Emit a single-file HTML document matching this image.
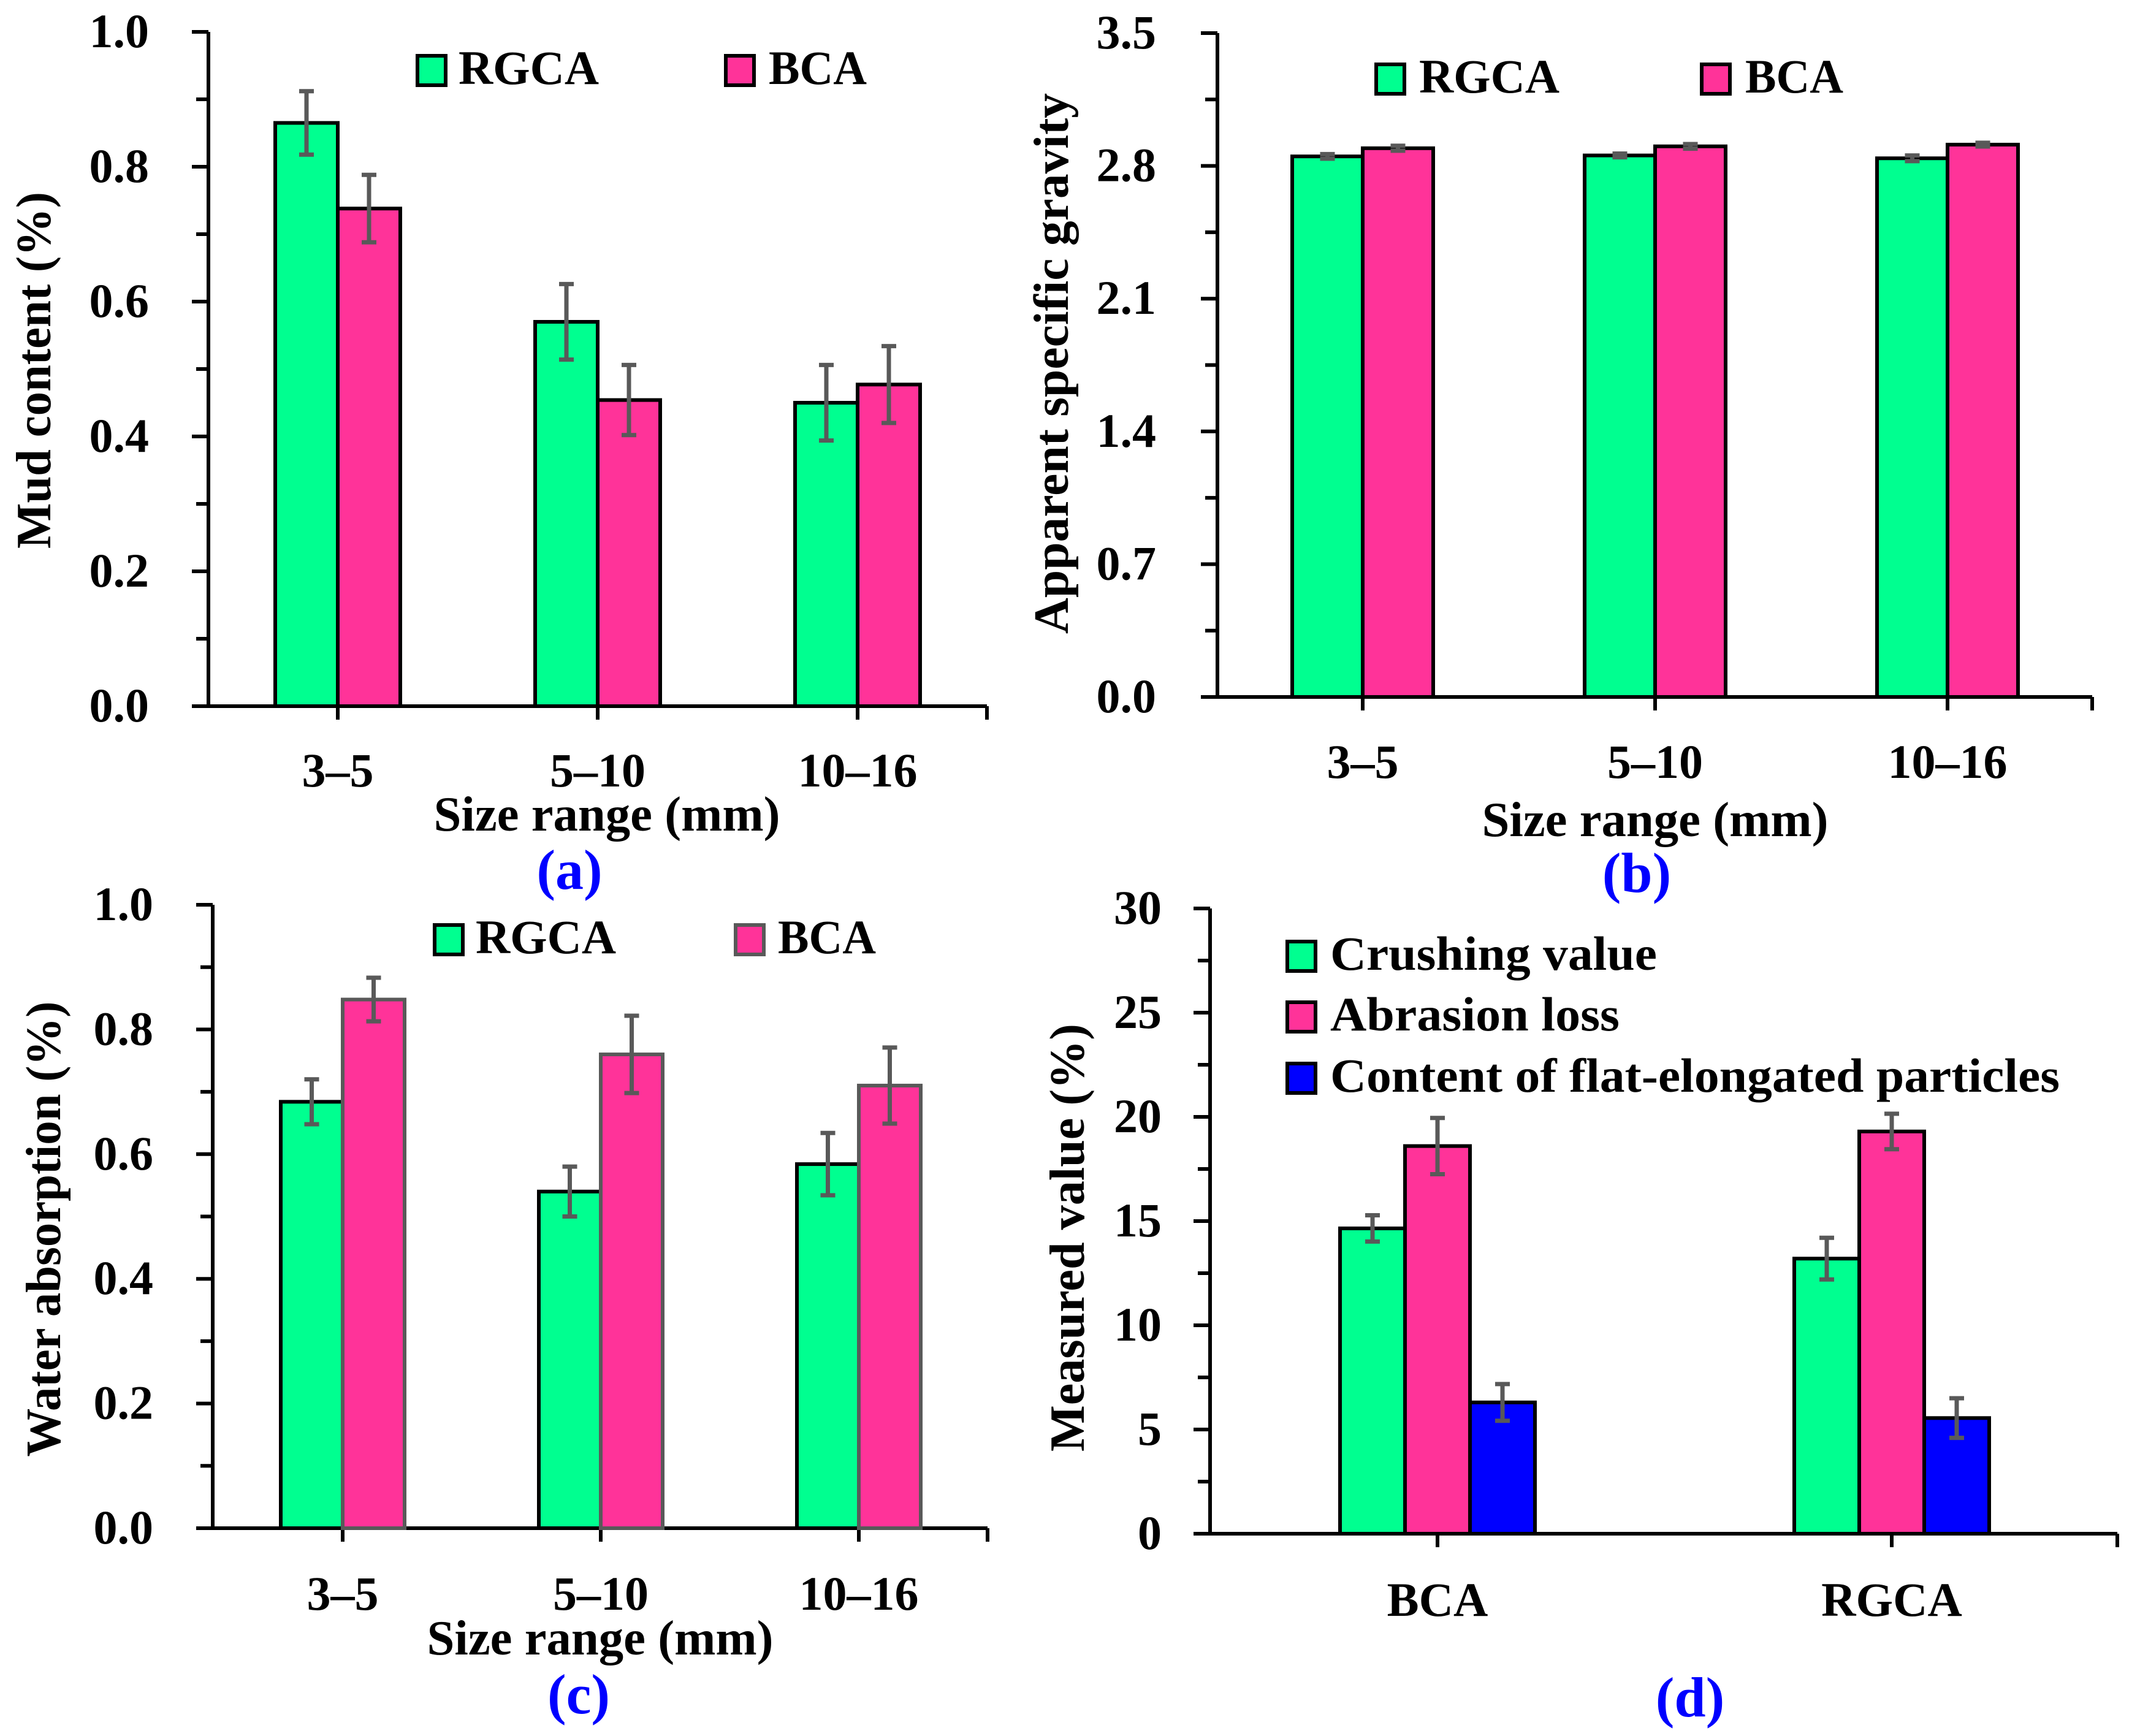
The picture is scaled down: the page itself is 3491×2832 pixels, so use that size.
<!DOCTYPE html>
<html><head><meta charset="utf-8"><style>
html,body{margin:0;padding:0;background:#fff;}
svg{display:block;}
svg text{font-family:"Liberation Serif","DejaVu Serif",serif;font-weight:bold;}
</style></head><body>
<svg id="fig" width="3491" height="2832" viewBox="0 0 3491 2832" xmlns="http://www.w3.org/2000/svg" font-family="Liberation Serif, DejaVu Serif, serif" font-weight="bold"></svg>
<script>
// Panel (a) Mud content
const aCategories = ["3–5","5–10","10–16"];
const aRGCA = [0.865, 0.57, 0.45];
const aRGCAErr = [0.047, 0.056, 0.056];
const aBCA = [0.738, 0.454, 0.477];
const aBCAErr = [0.05, 0.052, 0.057];
const aTicks = ["0.0","0.2","0.4","0.6","0.8","1.0"];
// Panel (b) Apparent specific gravity
const bCategories = ["3–5","5–10","10–16"];
const bRGCA = [2.85, 2.855, 2.84];
const bRGCAErr = [0.012, 0.01, 0.015];
const bBCA = [2.893, 2.903, 2.912];
const bBCAErr = [0.013, 0.012, 0.01];
const bTicks = ["0.0","0.7","1.4","2.1","2.8","3.5"];
// Panel (c) Water absorption
const cCategories = ["3–5","5–10","10–16"];
const cRGCA = [0.684, 0.54, 0.584];
const cRGCAErr = [0.036, 0.04, 0.05];
const cBCA = [0.848, 0.76, 0.71];
const cBCAErr = [0.035, 0.062, 0.061];
const cTicks = ["0.0","0.2","0.4","0.6","0.8","1.0"];
// Panel (d) Measured value
const dCategories = ["BCA","RGCA"];
const dCrushing = [14.65, 13.2];
const dCrushingErr = [0.63, 1.0];
const dAbrasion = [18.6, 19.3];
const dAbrasionErr = [1.35, 0.85];
const dFlat = [6.3, 5.55];
const dFlatErr = [0.88, 0.95];
const dTicks = ["0","5","10","15","20","25","30"];

const NS="http://www.w3.org/2000/svg";
const svg=document.getElementById('fig');
function el(tag,attrs,parent,text){const e=document.createElementNS(NS,tag);for(const k in attrs)e.setAttribute(k,attrs[k]);if(text!==undefined)e.textContent=text;(parent||svg).appendChild(e);return e;}

const GREEN="#00ff90",PINK="#ff3399",BLUE="#0000ff",ERR="#595959";

function panel(cfg){
  const g=el('g',{});
  
  
  const {x0,x1,yTop,yBot,ymax}=cfg;
  const ys=v=>yBot-(v/ymax)*(yBot-yTop);
  const ax=el('line',{x1:x0,y1:yTop,x2:x0,y2:yBot,stroke:'#000','stroke-width':6},g);
  
  const xa=el('line',{x1:x0-27,y1:yBot,x2:x1,y2:yBot,stroke:'#000','stroke-width':6},g);
  
  const nT=cfg.ticks.length;
  const step=ymax/(nT-1);
  for(let i=0;i<nT;i++){
    const v=i*step,y=ys(v);
    const t=el('line',{x1:x0-27,y1:y,x2:x0,y2:y,stroke:'#000','stroke-width':6},g);
    
    const lb=el('text',{x:cfg.tickRight,y:y+25,'text-anchor':'end','font-size':78},g,cfg.ticks[i]);
    
    if(i<nT-1){const ym=ys(v+step/2);
      const m=el('line',{x1:x0-20,y1:ym,x2:x0,y2:ym,stroke:'#000','stroke-width':6},g);
      }
  }
  const nC=cfg.categories.length;
  const ns=cfg.series.length;
  const bw=cfg.bw;
  for(let c=0;c<nC;c++){
    const cx=x0+cfg.firstCenter+c*cfg.spacing;
    const tk=el('line',{x1:cx,y1:yBot,x2:cx,y2:yBot+22,stroke:'#000','stroke-width':6},g);
    
    const lb=el('text',{x:cx,y:cfg.xLabelY,'text-anchor':'middle','font-size':78},g,cfg.categories[c]);
    
    for(let s=0;s<ns;s++){
      const S=cfg.series[s];
      const left=cx-ns*bw/2+s*bw;
      const v=S.values[c];
      const r=el('rect',{x:left,y:ys(v),width:bw,height:yBot-ys(v),fill:S.color,stroke:S.stroke||'#000','stroke-width':6},g);
      
      const bx=left+bw/2,e=S.errs[c];
      const eg=el('g',{stroke:ERR,'stroke-width':7},g);
      
      el('line',{x1:bx,y1:ys(v+e),x2:bx,y2:ys(v-e)},eg);
      el('line',{x1:bx-12,y1:ys(v+e),x2:bx+12,y2:ys(v+e)},eg);
      el('line',{x1:bx-12,y1:ys(v-e),x2:bx+12,y2:ys(v-e)},eg);
    }
  }
  const et=el('line',{x1:x1,y1:yBot,x2:x1,y2:yBot+22,stroke:'#000','stroke-width':6},g);
  
  cfg.legend.forEach(L=>{
    const sq=el('rect',{x:L.x,y:L.y,width:46,height:48,fill:L.color,stroke:L.stroke||'#000','stroke-width':6},g);
    
    const at={x:L.tx,y:L.y+46,'font-size':78};
    if(L.len){at.textLength=L.len;at.lengthAdjust='spacingAndGlyphs';}
    const tx=el('text',at,g,L.text);
    
  });
  const yt=el('text',{x:0,y:0,'text-anchor':'middle','font-size':80,textLength:cfg.ytLen,lengthAdjust:'spacingAndGlyphs',transform:`translate(${cfg.ytX},${cfg.ytY}) rotate(-90)`},g,cfg.ytitle);
  
  if(cfg.xtitle){
    const xt=el('text',{x:cfg.xtX,y:cfg.xtY,'text-anchor':'middle','font-size':80,textLength:565,lengthAdjust:'spacingAndGlyphs'},g,cfg.xtitle);
    
  }
  const pl=el('text',{x:cfg.plX,y:cfg.plY,'text-anchor':'middle','font-size':92,fill:BLUE},g,cfg.label);
  
}

panel({name:'panel-a-mud-content',x0:340,x1:1610,yTop:52,yBot:1152,ymax:1.0,ticks:aTicks,tickRight:243,
  categories:aCategories,firstCenter:211,spacing:424,bw:102,xLabelY:1283,
  series:[{key:'rgca',values:aRGCA,errs:aRGCAErr,color:GREEN},{key:'bca',values:aBCA,errs:aBCAErr,color:PINK}],
  legend:[{x:681,y:91,color:GREEN,tx:748,text:'RGCA',len:229},{x:1184,y:91,color:PINK,tx:1254,text:'BCA',len:160}],
  ytitle:'Mud content (%)',ytX:82,ytY:604,ytLen:582,xtitle:'Size range (mm)',xtX:990,xtY:1355,label:'(a)',plX:929,plY:1450});

panel({name:'panel-b-specific-gravity',x0:1986,x1:3413,yTop:54,yBot:1137,ymax:3.5,ticks:bTicks,tickRight:1886,
  categories:bCategories,firstCenter:237,spacing:477,bw:115,xLabelY:1269,
  series:[{key:'rgca',values:bRGCA,errs:bRGCAErr,color:GREEN},{key:'bca',values:bBCA,errs:bBCAErr,color:PINK}],
  legend:[{x:2245,y:105,color:GREEN,tx:2315,text:'RGCA',len:229},{x:2776,y:105,color:PINK,tx:2847,text:'BCA',len:160}],
  ytitle:'Apparent specific gravity',ytX:1742,ytY:593,ytLen:882,xtitle:'Size range (mm)',xtX:2700,xtY:1364,label:'(b)',plX:2670,plY:1455});

panel({name:'panel-c-water-absorption',x0:347,x1:1611,yTop:1476,yBot:2493,ymax:1.0,ticks:cTicks,tickRight:250,
  categories:cCategories,firstCenter:212,spacing:421,bw:101,xLabelY:2626,
  series:[{key:'rgca',values:cRGCA,errs:cRGCAErr,color:GREEN},{key:'bca',values:cBCA,errs:cBCAErr,color:PINK,stroke:'#595959'}],
  legend:[{x:709,y:1509,color:GREEN,tx:776,text:'RGCA',len:229},{x:1200,y:1509,color:PINK,stroke:'#595959',tx:1269,text:'BCA',len:160}],
  ytitle:'Water absorption (%)',ytX:98,ytY:2005,ytLen:743,xtitle:'Size range (mm)',xtX:979,xtY:2699,label:'(c)',plX:944,plY:2795});

panel({name:'panel-d-measured-value',x0:1974,x1:3454,yTop:1482,yBot:2502,ymax:30,ticks:dTicks,tickRight:1895,
  categories:dCategories,firstCenter:371,spacing:741,bw:106,xLabelY:2636,
  series:[{key:'crushing',values:dCrushing,errs:dCrushingErr,color:GREEN},{key:'abrasion',values:dAbrasion,errs:dAbrasionErr,color:PINK},{key:'flat',values:dFlat,errs:dFlatErr,color:BLUE}],
  legend:[{x:2100,y:1536,color:GREEN,tx:2170,text:'Crushing value',len:533},{x:2100,y:1635,color:PINK,tx:2170,text:'Abrasion loss',len:472},{x:2100,y:1735,color:BLUE,tx:2170,text:'Content of flat-elongated particles',len:1190}],
  ytitle:'Measured value (%)',ytX:1768,ytY:2019,ytLen:698,xtitle:null,label:'(d)',plX:2757,plY:2800});
</script>
</body></html>
